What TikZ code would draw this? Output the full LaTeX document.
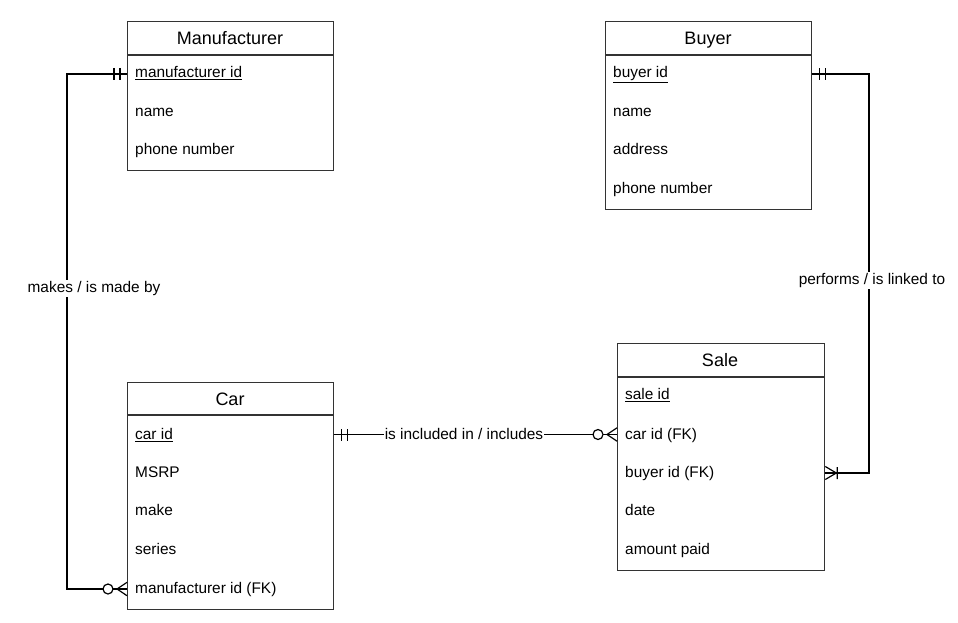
\documentclass[tikz,border=0pt]{standalone}
\usepackage{fontspec}
\setmainfont{Liberation Sans}
\definecolor{boxc}{HTML}{333333}
\begin{document}
\begin{tikzpicture}[x=1pt,y=-1pt,
  box/.style={draw=boxc, line width=1.3pt, inner sep=0pt, anchor=north west},
  divider/.style={draw=boxc, line width=1.3pt},
  hdr/.style={font=\fontsize{18}{20}\selectfont, text=black, inner sep=0pt, anchor=base},
  attr/.style={font=\fontsize{15.4}{18}\selectfont, anchor=base west, inner sep=0pt, text=black},
  conn/.style={line width=1.2pt, draw=black},
  lbl/.style={font=\fontsize{15.4}{18}\selectfont, fill=white, inner sep=1pt, text=black, anchor=base},
  mandone/.pic={\draw[conn] (-7,-6)--(-7,6) (-13,-6)--(-13,6);},
  zeromany/.pic={\draw[conn] (0,-6.7)--(-10,0)--(0,6.7); \draw[conn, fill=white] (-19,0) circle [radius=5pt];},
  onemany/.pic={\draw[conn] (0,-6.5)--(-11,0)--(0,6.5) (-12,-6)--(-12,6);},
]
\useasboundingbox (0,0) rectangle (958,623);
\fill[white] (0,0) rectangle (958,623);

% Manufacturer
\node[box, minimum width=206pt, minimum height=149pt] (man) at (127,21) {};
\draw[divider] (127,55) -- (333,55);
\node[hdr] (manh) at (230,44.5) {Manufacturer};
\node[attr] (man-id) at (135,77.5) {\underline{manufacturer id}};
\node[attr] (man-name) at (135,116.5) {name};
\node[attr] (man-phone) at (135,154.5) {phone number};

% Buyer
\node[box, minimum width=206pt, minimum height=188pt] (buy) at (605,21) {};
\draw[divider] (605,55) -- (811,55);
\node[hdr] (buyh) at (708,44.5) {Buyer};
\node[attr] (buy-id) at (613,77.5) {\underline{buyer id}};
\node[attr] (buy-name) at (613,116.5) {name};
\node[attr] (buy-addr) at (613,154.5) {address};
\node[attr] (buy-phone) at (613,193.5) {phone number};

% Car
\node[box, minimum width=206pt, minimum height=227pt] (car) at (127,382) {};
\draw[divider] (127,415) -- (333,415);
\node[hdr] (carh) at (230,405.5) {Car};
\node[attr] (car-id) at (135,439.5) {\underline{car id}};
\node[attr] (car-msrp) at (135,477.5) {MSRP};
\node[attr] (car-make) at (135,515.5) {make};
\node[attr] (car-series) at (135,554.5) {series};
\node[attr] (car-fk) at (135,593.5) {manufacturer id (FK)};

% Sale
\node[box, minimum width=207pt, minimum height=227pt] (sale) at (617,343) {};
\draw[divider] (617,377) -- (824,377);
\node[hdr] (saleh) at (720,366.5) {Sale};
\node[attr] (sale-id) at (625,399.5) {\underline{sale id}};
\node[attr] (sale-car) at (625,439.5) {car id (FK)};
\node[attr] (sale-buy) at (625,477.5) {buyer id (FK)};
\node[attr] (sale-date) at (625,515.5) {date};
\node[attr] (sale-amt) at (625,554.5) {amount paid};

% Connectors
\coordinate (mA) at (man.west |- 0,74);
\coordinate (cA) at (car.west |- 0,589);
\draw[conn] (mA) -- ++(-60,0) |- (cA);
\node[lbl] (l1) at (94,292.5) {makes / is made by};
\pic at (mA) {mandone};
\pic at (cA) {zeromany};

\coordinate (bA) at (buy.east |- 0,74);
\coordinate (sB) at (sale.east |- 0,473);
\draw[conn] (bA) -- (869,74) |- (sB);
\node[lbl] (l2) at (872,284.5) {performs / is linked to};
\pic[rotate=180] at (bA) {mandone};
\pic[rotate=180] at (sB) {onemany};

\coordinate (cB) at (car.east |- 0,434.5);
\coordinate (sA) at (sale.west |- 0,434.5);
\draw[conn] (cB) -- (sA);
\node[lbl, inner sep=0.5pt] (l3) at (464,439.5) {is included in / includes};
\pic[rotate=180] at (cB) {mandone};
\pic at (sA) {zeromany};
\end{tikzpicture}
\end{document}
